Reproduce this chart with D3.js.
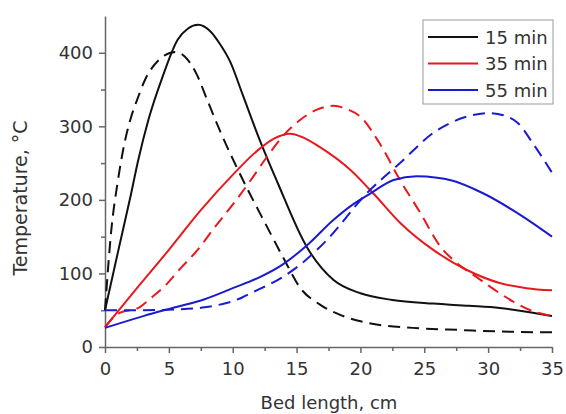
<!DOCTYPE html>
<html lang="en">
<head>
    <meta charset="UTF-8">
    <title>Temperature vs bed length</title>
    <script src="https://d3js.org/d3.v7.min.js"></script>
    <style>
        body { margin: 0; background: #fff; }
        text { font-family: "DejaVu Sans", sans-serif; fill: #333; }
        .axis path, .axis line { stroke: #666; stroke-width: 1.5px; }
        .axis text { font-size: 18px; fill: #333; }
        .curve { fill: none; stroke-width: 2px; }
    </style>
</head>
<body>
    <svg width="566" height="414"></svg>
    <script>
    // values: [bed length cm, temperature C]
    const solid15 = [[0,50],[1,128],[2,205],[2.6,254],[3.4,309],[4.5,367],[5.7,418],[6.5,433],[7.3,438],[8.2,430],[9,412],[9.8,388],[10.8,342],[12.1,282],[13.5,224],[15.8,136],[17.9,91],[20,73],[22.5,64],[25.7,59],[28.5,56],[30.9,53],[33,48],[35,42]];
    const dashed15 = [[0,50],[0.5,160],[1,225],[1.5,275],[2,310],[2.6,340],[3.1,362],[4.2,390],[5.5,401],[6.3,394],[7.2,370],[8,336],[9.1,290],[10.8,227],[12.7,163],[14,120],[15.3,80],[16.8,58],[18.5,43],[20.5,33],[24.1,26],[28,23],[31,21],[35,20]];
    const solid35 = [[0,27],[2.5,80],[5,132],[7.5,186],[10,234],[12,268],[13.3,284],[14.5,290],[15.5,285],[16.8,272],[19.2,241],[21,209],[23.1,169],[25.7,132],[28.3,105],[30.9,87],[33,80],[35,77]];
    const dashed35 = [[0,27],[1,45],[2.7,54],[3.7,68],[4.8,85],[5.7,103],[7.3,133],[8.6,163],[10.2,198],[11.5,229],[12.7,259],[14,288],[15.3,309],[16.5,322],[17.9,328],[19,323],[20,313],[21.5,277],[23.1,227],[24.7,182],[26.2,138],[27.5,115],[29.1,95],[31,72],[33.3,50],[35,42]];
    const solid55 = [[0,26],[3,42],[5.5,54],[7.8,65],[10,80],[12,94],[13.9,112],[15.8,138],[17.9,173],[19.5,195],[20.8,209],[22.6,227],[24.4,232],[26,230],[27,227],[29.6,209],[32.3,182],[35,150]];
    const dashed55 = [[0,50],[3,50],[5.5,51],[7.8,54],[10.7,67],[11.4,73],[13.9,95],[15.5,115],[17.4,146],[20.5,209],[23.1,250],[25.7,291],[28.3,313],[30.1,318],[31.2,315],[32.3,305],[33.5,277],[35,237]];

    const legendLabels = ["15 min", "35 min", "55 min"];
    const colors = ["#111111", "#e8191e", "#1a1ad2"];
    const xTicks = [0, 5, 10, 15, 20, 25, 30, 35];
    const xMinor = [2.5, 7.5, 12.5, 17.5, 22.5, 27.5, 32.5];
    const yTicks = [0, 100, 200, 300, 400];
    const yMinor = [50, 150, 250, 350];

    const svg = d3.select("svg");
    svg.append("rect").attr("width", 566).attr("height", 414).attr("fill", "#fff");

    const x = d3.scaleLinear().domain([0, 35]).range([105, 552]);
    const y = d3.scaleLinear().domain([0, 450]).range([347, 16]);

    // minor ticks first
    svg.append("g").attr("class", "axis").attr("transform", "translate(0,347)")
        .call(d3.axisBottom(x).tickValues(xMinor).tickSize(4).tickFormat(""))
        .select(".domain").remove();
    svg.append("g").attr("class", "axis").attr("transform", "translate(105,0)")
        .call(d3.axisLeft(y).tickValues(yMinor).tickSize(4).tickFormat(""))
        .select(".domain").remove();

    svg.append("g").attr("class", "axis").attr("transform", "translate(0,347)")
        .call(d3.axisBottom(x).tickValues(xTicks).tickSize(6).tickSizeOuter(0).tickPadding(9));
    svg.append("g").attr("class", "axis").attr("transform", "translate(105,0)")
        .call(d3.axisLeft(y).tickValues(yTicks).tickSize(6).tickSizeOuter(0).tickPadding(6));

    // curves
    const line = d3.line()
        .x(d => x(d[0]))
        .y(d => y(d[1]))
        .curve(d3.curveMonotoneX);

    const series = [
        {data: solid15, c: 0, dash: null},
        {data: dashed15, c: 0, dash: "12,7"},
        {data: solid35, c: 1, dash: null},
        {data: dashed35, c: 1, dash: "12,7"},
        {data: solid55, c: 2, dash: null},
        {data: dashed55, c: 2, dash: "12,7"}
    ];
    svg.append("g").selectAll("path")
        .data(series)
        .enter().append("path")
        .attr("class", "curve")
        .attr("d", d => line(d.data))
        .attr("stroke", d => colors[d.c])
        .attr("stroke-dasharray", d => d.dash);

    // axis titles
    svg.append("text")
        .attr("x", 329).attr("y", 409)
        .attr("text-anchor", "middle")
        .style("font-size", "18px")
        .text("Bed length, cm");
    svg.append("text")
        .attr("transform", "translate(27,198) rotate(-90)")
        .attr("text-anchor", "middle")
        .style("font-size", "19px")
        .text("Temperature, °C");

    // legend
    const legend = svg.append("g");
    legend.append("rect")
        .attr("x", 423).attr("y", 20).attr("width", 130).attr("height", 84)
        .attr("fill", "#fff").attr("stroke", "#999").attr("stroke-width", 1);
    const rows = legend.selectAll("g.row")
        .data(legendLabels)
        .enter().append("g")
        .attr("class", "row")
        .attr("transform", (d, i) => `translate(0,${37 + i * 26.5})`);
    rows.append("line")
        .attr("x1", 428).attr("x2", 478)
        .attr("stroke", (d, i) => colors[i]).attr("stroke-width", 2);
    rows.append("text")
        .attr("x", 485).attr("y", 6.5)
        .style("font-size", "18px")
        .text(d => d);
    </script>
</body>
</html>
